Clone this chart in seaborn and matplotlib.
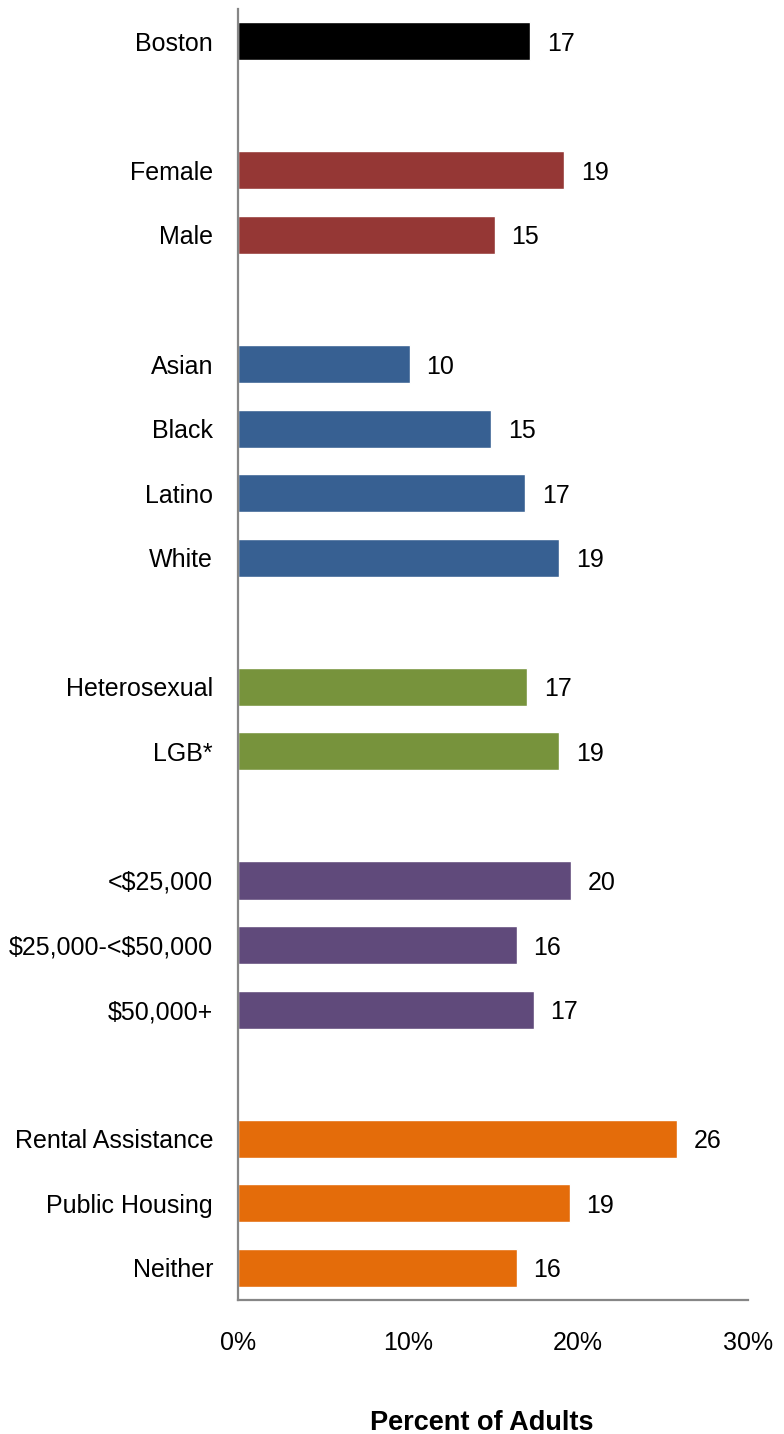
import matplotlib
matplotlib.use("Agg")
import matplotlib.pyplot as plt
import pandas as pd
import seaborn as sns

# ── Data ──────────────────────────────────────────────────────────────────────
CATEGORIES = ["Boston", "Female", "Male", "Asian", "Black", "Latino", "White",
              "Heterosexual", "LGB*", "<$25,000", "$25,000-<$50,000", "$50,000+",
              "Rental Assistance", "Public Housing", "Neither"]
GROUPS = ["Boston", "Sex", "Sex", "Race", "Race", "Race", "Race",
          "Orientation", "Orientation", "Income", "Income", "Income",
          "Housing", "Housing", "Housing"]
VALUES = [17.2, 19.2, 15.1, 10.1, 14.9, 16.9, 18.9,
          17.0, 18.9, 19.6, 16.4, 17.4, 25.8, 19.5, 16.4]
LABELS = ["17", "19", "15", "10", "15", "17", "19",
          "17", "19", "20", "16", "17", "26", "19", "16"]

# blank slots between groups
ORDER = ["Boston", " ", "Female", "Male", "  ", "Asian", "Black", "Latino", "White",
         "   ", "Heterosexual", "LGB*", "    ", "<$25,000", "$25,000-<$50,000",
         "$50,000+", "     ", "Rental Assistance", "Public Housing", "Neither"]
PALETTE = {"Boston": "#000000", "Sex": "#953735", "Race": "#376092",
           "Orientation": "#77933C", "Income": "#604A7B", "Housing": "#E46C0A"}

df = pd.DataFrame({"category": CATEGORIES, "group": GROUPS, "value": VALUES})

sns.set_style("white")
plt.rcParams["font.family"] = ["Liberation Sans", "DejaVu Sans"]
plt.rcParams["text.parse_math"] = False
plt.rcParams["text.color"] = "black"
plt.rcParams["xtick.color"] = "black"
plt.rcParams["ytick.color"] = "black"
plt.rcParams["axes.labelcolor"] = "black"

FS = 18

fig = plt.figure(figsize=(7.84, 14.34), dpi=100)
ax = fig.add_axes([0.3036, 0.0934, 0.6505, 0.9003])

sns.barplot(data=df, x="value", y="category", hue="group", order=ORDER,
            palette=PALETTE, dodge=False, width=0.59, legend=False,
            saturation=1, ax=ax)

# value labels, matched to each bar by its slot in ORDER
for container in ax.containers:
    labels = []
    for bar in container:
        slot = int(round(bar.get_y() + bar.get_height() / 2))
        labels.append(LABELS[CATEGORIES.index(ORDER[slot])])
    texts = ax.bar_label(container, labels=labels, padding=12, fontsize=FS)
    for t in texts:
        t.set_va("center_baseline")

ax.set_xlim(0, 30)
ax.set_ylim(19.5, -0.5)
ax.set_xticks([0, 10, 20, 30])
ax.set_xticklabels(["0%", "10%", "20%", "30%"], fontsize=FS)
ax.tick_params(axis="x", length=0, pad=22)
ax.tick_params(axis="y", length=0, pad=18, labelsize=FS)
ax.set_ylabel("")
ax.set_xlabel("Percent of Adults", fontsize=19.5, fontweight="bold")
ax.xaxis.set_label_coords(0.478, -0.085)

for side in ["top", "right"]:
    ax.spines[side].set_visible(False)
for side in ["left", "bottom"]:
    ax.spines[side].set_color("#868686")
    ax.spines[side].set_linewidth(1.6)

plt.savefig("out.png", dpi=100)
plt.close()
